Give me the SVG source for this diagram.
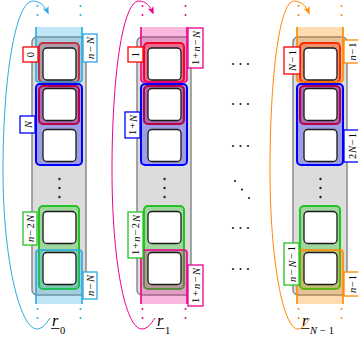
<svg xmlns="http://www.w3.org/2000/svg" width="358" height="343" viewBox="0 0 358 343">
<defs>
<style>
.col{fill:#dcdcdc;stroke:#8a8a8a;stroke-width:1.5}
.box{fill:#fff;stroke:#1a1a1a;stroke-width:1.3}
.fr{fill:rgba(255,0,0,0.32);stroke:#ff0000;stroke-width:2}
.fb{fill:rgba(0,0,255,0.28);stroke:#0000ff;stroke-width:2}
.fg{fill:rgba(0,200,0,0.28);stroke:#22c322;stroke-width:2}
.bc{fill:rgba(41,171,226,0.3);stroke:#29abe2;stroke-width:1.6}
.bm{fill:rgba(236,0,140,0.28);stroke:#ec008c;stroke-width:1.6}
.bo{fill:rgba(255,136,0,0.3);stroke:#ff8800;stroke-width:1.6}
.dc{stroke:#29abe2;stroke-width:2;stroke-linecap:round;stroke-dasharray:0 9;fill:none}
.dm{stroke:#ec008c;stroke-width:2;stroke-linecap:round;stroke-dasharray:0 9;fill:none}
.do{stroke:#ff8800;stroke-width:2;stroke-linecap:round;stroke-dasharray:0 9;fill:none}
.lr{fill:#fff;stroke:#ff0000;stroke-width:1.3}
.lb{fill:#fff;stroke:#0000ff;stroke-width:1.3}
.lg{fill:#fff;stroke:#22c322;stroke-width:1.3}
.lc{fill:#fff;stroke:#29abe2;stroke-width:1.3}
.lm{fill:#fff;stroke:#ec008c;stroke-width:1.3}
.lo{fill:#fff;stroke:#ff8800;stroke-width:1.3}
text{font-family:"Liberation Serif",serif;fill:#000}
.t{font-size:10.5px;text-anchor:middle;dominant-baseline:central}
.i{font-style:italic}
.r{font-size:16px;font-style:italic}
.s{font-size:10.5px}
.dot{fill:#222}
</style>
<marker id="ac" viewBox="0 0 10 10" refX="8" refY="5" markerWidth="8" markerHeight="8" orient="auto" markerUnits="userSpaceOnUse"><path d="M0 1 L10 5 L0 9 L3 5 Z" fill="#29abe2"/></marker>
<marker id="am" viewBox="0 0 10 10" refX="8" refY="5" markerWidth="8" markerHeight="8" orient="auto" markerUnits="userSpaceOnUse"><path d="M0 1 L10 5 L0 9 L3 5 Z" fill="#ec008c"/></marker>
<marker id="ao" viewBox="0 0 10 10" refX="8" refY="5" markerWidth="8" markerHeight="8" orient="auto" markerUnits="userSpaceOnUse"><path d="M0 1 L10 5 L0 9 L3 5 Z" fill="#ff8800"/></marker>
</defs>

<g id="column0">
<rect class="col" x="32" y="37" width="54" height="258" rx="5"/>
<rect class="fr" x="39" y="43" width="40" height="39" rx="4"/>
<rect class="fr" x="39" y="86" width="40" height="38" rx="4"/>
<rect class="fb" x="36" y="84" width="46" height="81" rx="4"/>
<rect class="fg" x="39" y="206" width="40" height="83" rx="4"/>
<path class="bc" d="M36 27 V79 Q36 82 39 82 H79 Q82 82 82 79 V27"/>
<path class="bc" d="M36 304 V253 Q36 250 39 250 H79 Q82 250 82 253 V304"/>
<rect class="box" x="43" y="48" width="33" height="32" rx="4"/>
<rect class="box" x="43" y="88.5" width="33" height="32" rx="4"/>
<rect class="box" x="43" y="129.5" width="33" height="32" rx="4"/>
<rect class="box" x="43" y="211.5" width="33" height="32" rx="4"/>
<rect class="box" x="43" y="252.5" width="33" height="32" rx="4"/>
<circle class="dot" cx="59.5" cy="179" r="1.2"/><circle class="dot" cx="59.5" cy="188" r="1.2"/><circle class="dot" cx="59.5" cy="197" r="1.2"/>
<path class="dc" d="M37.5 6 V24 M80.5 6 V24 M37.5 309 V327 M80.5 309 V327"/>
<rect class="lr" x="23" y="47" width="15" height="15"/>
<text class="t" x="30.5" y="54.5" transform="rotate(-90 30.5 54.5)">0</text>
<rect class="lc" x="83" y="34" width="14" height="28"/>
<text class="t" x="90" y="48" transform="rotate(-90 90 48)" textLength="22" lengthAdjust="spacing"><tspan class="i">n</tspan>−<tspan class="i">N</tspan></text>
<rect class="lb" x="20" y="116" width="15" height="17"/>
<text class="t" x="27.5" y="124.5" transform="rotate(-90 27.5 124.5)"><tspan class="i">N</tspan></text>
<rect class="lg" x="23" y="212" width="14" height="33"/>
<text class="t" x="30" y="228.5" transform="rotate(-90 30 228.5)" textLength="27" lengthAdjust="spacing"><tspan class="i">n</tspan>−2<tspan class="i">N</tspan></text>
<rect class="lc" x="83" y="272" width="14" height="27"/>
<text class="t" x="90" y="285.5" transform="rotate(-90 90 285.5)" textLength="21" lengthAdjust="spacing"><tspan class="i">n</tspan>−<tspan class="i">N</tspan></text>
<text class="r" x="52" y="326">r</text>
<line x1="51" y1="328.5" x2="59.5" y2="328.5" stroke="#000" stroke-width="0.8"/>
<text class="s" x="60" y="334">0</text>
</g>

<g id="column1">
<rect class="col" x="137" y="37" width="54" height="258" rx="5"/>
<rect class="fr" x="144" y="43" width="40" height="39" rx="4"/>
<rect class="fr" x="144" y="86" width="40" height="38" rx="4"/>
<rect class="fb" x="141" y="84" width="46" height="81" rx="4"/>
<rect class="fg" x="144" y="206" width="40" height="83" rx="4"/>
<path class="bm" d="M141 27 V79 Q141 82 144 82 H184 Q187 82 187 79 V27"/>
<path class="bm" d="M141 304 V253 Q141 250 144 250 H184 Q187 250 187 253 V304"/>
<rect class="box" x="148" y="48" width="33" height="32" rx="4"/>
<rect class="box" x="148" y="88.5" width="33" height="32" rx="4"/>
<rect class="box" x="148" y="129.5" width="33" height="32" rx="4"/>
<rect class="box" x="148" y="211.5" width="33" height="32" rx="4"/>
<rect class="box" x="148" y="252.5" width="33" height="32" rx="4"/>
<circle class="dot" cx="164.5" cy="179" r="1.2"/><circle class="dot" cx="164.5" cy="188" r="1.2"/><circle class="dot" cx="164.5" cy="197" r="1.2"/>
<path class="dm" d="M142.5 6 V24 M185.5 6 V24 M142.5 309 V327 M185.5 309 V327"/>
<rect class="lr" x="128" y="47" width="15" height="15"/>
<text class="t" x="135.5" y="54.5" transform="rotate(-90 135.5 54.5)">1</text>
<rect class="lm" x="188" y="28" width="15" height="40"/>
<text class="t" x="195.5" y="48" transform="rotate(-90 195.5 48)" textLength="34" lengthAdjust="spacing">1+<tspan class="i">n</tspan>−<tspan class="i">N</tspan></text>
<rect class="lb" x="125" y="112" width="15" height="26"/>
<text class="t" x="132.5" y="125" transform="rotate(-90 132.5 125)" textLength="20" lengthAdjust="spacing">1+<tspan class="i">N</tspan></text>
<rect class="lg" x="128" y="212" width="15" height="46"/>
<text class="t" x="135.5" y="235" transform="rotate(-90 135.5 235)" textLength="40" lengthAdjust="spacing">1+<tspan class="i">n</tspan>−2<tspan class="i">N</tspan></text>
<rect class="lm" x="188" y="265" width="15" height="41"/>
<text class="t" x="195.5" y="285.5" transform="rotate(-90 195.5 285.5)" textLength="35" lengthAdjust="spacing">1+<tspan class="i">n</tspan>−<tspan class="i">N</tspan></text>
<text class="r" x="157" y="326">r</text>
<line x1="156" y1="328.5" x2="164.5" y2="328.5" stroke="#000" stroke-width="0.8"/>
<text class="s" x="165" y="334">1</text>
</g>

<g id="column2">
<rect class="col" x="293" y="37" width="54" height="258" rx="5"/>
<rect class="fr" x="300" y="43" width="40" height="39" rx="4"/>
<rect class="fr" x="300" y="86" width="40" height="38" rx="4"/>
<rect class="fb" x="297" y="84" width="46" height="81" rx="4"/>
<rect class="fg" x="300" y="206" width="40" height="83" rx="4"/>
<path class="bo" d="M297 27 V79 Q297 82 300 82 H340 Q343 82 343 79 V27"/>
<path class="bo" d="M297 304 V253 Q297 250 300 250 H340 Q343 250 343 253 V304"/>
<rect class="box" x="304" y="48" width="33" height="32" rx="4"/>
<rect class="box" x="304" y="88.5" width="33" height="32" rx="4"/>
<rect class="box" x="304" y="129.5" width="33" height="32" rx="4"/>
<rect class="box" x="304" y="211.5" width="33" height="32" rx="4"/>
<rect class="box" x="304" y="252.5" width="33" height="32" rx="4"/>
<circle class="dot" cx="320.5" cy="179" r="1.2"/><circle class="dot" cx="320.5" cy="188" r="1.2"/><circle class="dot" cx="320.5" cy="197" r="1.2"/>
<path class="do" d="M298.5 6 V24 M341.5 6 V24 M298.5 309 V327 M341.5 309 V327"/>
<rect class="lr" x="284" y="47" width="16" height="27"/>
<text class="t" x="292" y="60.5" transform="rotate(-90 292 60.5)" textLength="21" lengthAdjust="spacing"><tspan class="i">N</tspan>−1</text>
<rect class="lo" x="344" y="40" width="17" height="23"/>
<text class="t" x="352" y="51.5" transform="rotate(-90 352 51.5)" textLength="18" lengthAdjust="spacing"><tspan class="i">n</tspan>−1</text>
<rect class="lb" x="344" y="130" width="17" height="32"/>
<text class="t" x="352" y="146" transform="rotate(-90 352 146)" textLength="26" lengthAdjust="spacing">2<tspan class="i">N</tspan>−1</text>
<rect class="lg" x="284" y="243" width="15" height="42"/>
<text class="t" x="291.5" y="264" transform="rotate(-90 291.5 264)" textLength="36" lengthAdjust="spacing"><tspan class="i">n</tspan>−<tspan class="i">N</tspan>−1</text>
<rect class="lo" x="344" y="272" width="17" height="24"/>
<text class="t" x="352" y="284" transform="rotate(-90 352 284)" textLength="18" lengthAdjust="spacing"><tspan class="i">n</tspan>−1</text>
<text class="r" x="302" y="326">r</text>
<line x1="301" y1="328.5" x2="309.5" y2="328.5" stroke="#000" stroke-width="0.8"/>
<text class="s" x="310" y="334" textLength="24" lengthAdjust="spacing"><tspan class="i">N</tspan>−1</text>
</g>

<g id="ellipses">
<circle class="dot" cx="233" cy="64" r="1.1"/><circle class="dot" cx="240.5" cy="64" r="1.1"/><circle class="dot" cx="248" cy="64" r="1.1"/>
<circle class="dot" cx="233" cy="104" r="1.1"/><circle class="dot" cx="240.5" cy="104" r="1.1"/><circle class="dot" cx="248" cy="104" r="1.1"/>
<circle class="dot" cx="233" cy="146" r="1.1"/><circle class="dot" cx="240.5" cy="146" r="1.1"/><circle class="dot" cx="248" cy="146" r="1.1"/>
<circle class="dot" cx="235" cy="181" r="1.1"/><circle class="dot" cx="242" cy="189.5" r="1.1"/><circle class="dot" cx="249" cy="198" r="1.1"/>
<circle class="dot" cx="233" cy="228" r="1.1"/><circle class="dot" cx="240.5" cy="228" r="1.1"/><circle class="dot" cx="248" cy="228" r="1.1"/>
<circle class="dot" cx="233" cy="269" r="1.1"/><circle class="dot" cx="240.5" cy="269" r="1.1"/><circle class="dot" cx="248" cy="269" r="1.1"/>
</g>

<g id="connectors" fill="none" stroke-width="1">
<path stroke="#29abe2" marker-end="url(#ac)" d="M50 318 C46 324 42 329 37 329 C20 329 3 260 3 170 C3 80 15 1 33 1 C40 1 45 6 48 13"/>
<path stroke="#ec008c" marker-end="url(#am)" d="M155 318 C151 324 147 329 142 329 C125 329 112 260 112 170 C112 80 122 1 139 1 C146 1 150 6 153 13"/>
<path stroke="#ff8800" marker-end="url(#ao)" d="M310 318 C306 324 302 329 298 329 C283 329 270 260 270 170 C270 80 279 1 294 1 C301 1 306 6 309 13"/>
</g>
</svg>
